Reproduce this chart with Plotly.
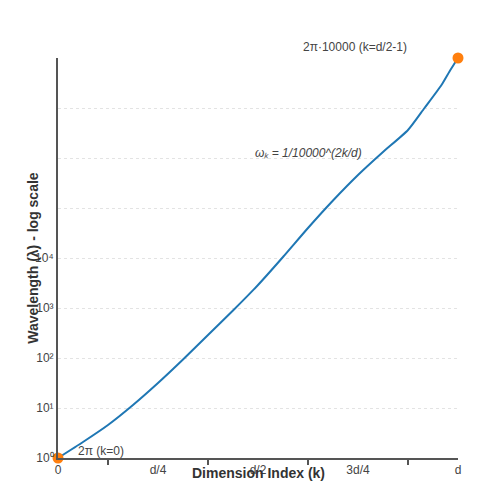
import plotly.graph_objects as go

k_pos = [0, 0.5, 1, 1.5, 2, 2.5, 3, 3.5, 4, 4.5, 5, 5.5, 6, 6.5, 7, 7.33, 7.67, 7.83, 8]
log_wavelength = [0, 0.32, 0.66, 1.06, 1.5, 1.97, 2.46, 2.95, 3.46, 4.02, 4.6, 5.15, 5.66, 6.12,
                  6.56, 7.0, 7.46, 7.73, 8]
x_tick_vals = [0, 2, 4, 6, 8]
x_tick_text = ["0", "d/4", "d/2", "3d/4", "d"]
y_tick_vals = [0, 1, 2, 3, 4]
y_tick_text = ["10⁰", "10¹", "10²", "10³", "10⁴"]
grid_vals = [1, 2, 3, 4, 5, 6, 7]

font = "Liberation Sans, Arial, sans-serif"
fig = go.Figure()
fig.add_trace(go.Scatter(x=k_pos, y=log_wavelength, mode="lines",
                         line=dict(color="#1f77b4", width=2, shape="spline", smoothing=0.6),
                         hoverinfo="skip", cliponaxis=False))
fig.add_trace(go.Scatter(x=[k_pos[0], k_pos[-1]], y=[log_wavelength[0], log_wavelength[-1]],
                         mode="markers", marker=dict(color="#ff7f0e", size=11),
                         hoverinfo="skip", cliponaxis=False))
fig.update_layout(
    width=500, height=500, showlegend=False,
    plot_bgcolor="white", paper_bgcolor="white",
    margin=dict(l=50, r=50, t=50, b=50, autoexpand=False),
    font=dict(family=font, size=12, color="#444"),
    xaxis=dict(range=[0, 8], tickvals=x_tick_vals, ticktext=x_tick_text, automargin=False,
               showgrid=False, zeroline=False, showline=True, linecolor="#555", linewidth=2,
               ticks="",
               minor=dict(tickvals=[1, 3, 5, 7], ticks="outside", ticklen=5,
                          tickcolor="#555", tickwidth=2, showgrid=False)),
    yaxis=dict(range=[0, 8], tickvals=y_tick_vals, ticktext=y_tick_text, automargin=False,
               showgrid=False, zeroline=False, showline=True, linecolor="#555", linewidth=2,
               ticks="",
               minor=dict(tickvals=grid_vals, showgrid=True, gridcolor="#e3e3e3",
                          griddash="dot", gridwidth=1, ticks="")),
    annotations=[
        dict(x=0, y=0, text="2π (k=0)", showarrow=False, xanchor="left", yanchor="bottom",
             xshift=18, yshift=-2),
        dict(x=8, y=8, text="2π·10000 (k=d/2-1)", showarrow=False, xanchor="center",
             yanchor="bottom", xshift=-103, yshift=2),
        dict(x=5, y=6.1, text="<i>ωₖ = 1/10000^(2k/d)</i>", showarrow=False),
        dict(xref="paper", yref="paper", x=0.5, y=-0.062, text="<b>Dimension Index (k)</b>",
             showarrow=False, font=dict(size=14, color="#333")),
        dict(xref="paper", yref="paper", x=-0.088, y=0.5, text="<b>Wavelength (λ) - log scale</b>",
             showarrow=False, textangle=-90, font=dict(size=14, color="#333")),
    ],
)
fig.write_html("out.html")
